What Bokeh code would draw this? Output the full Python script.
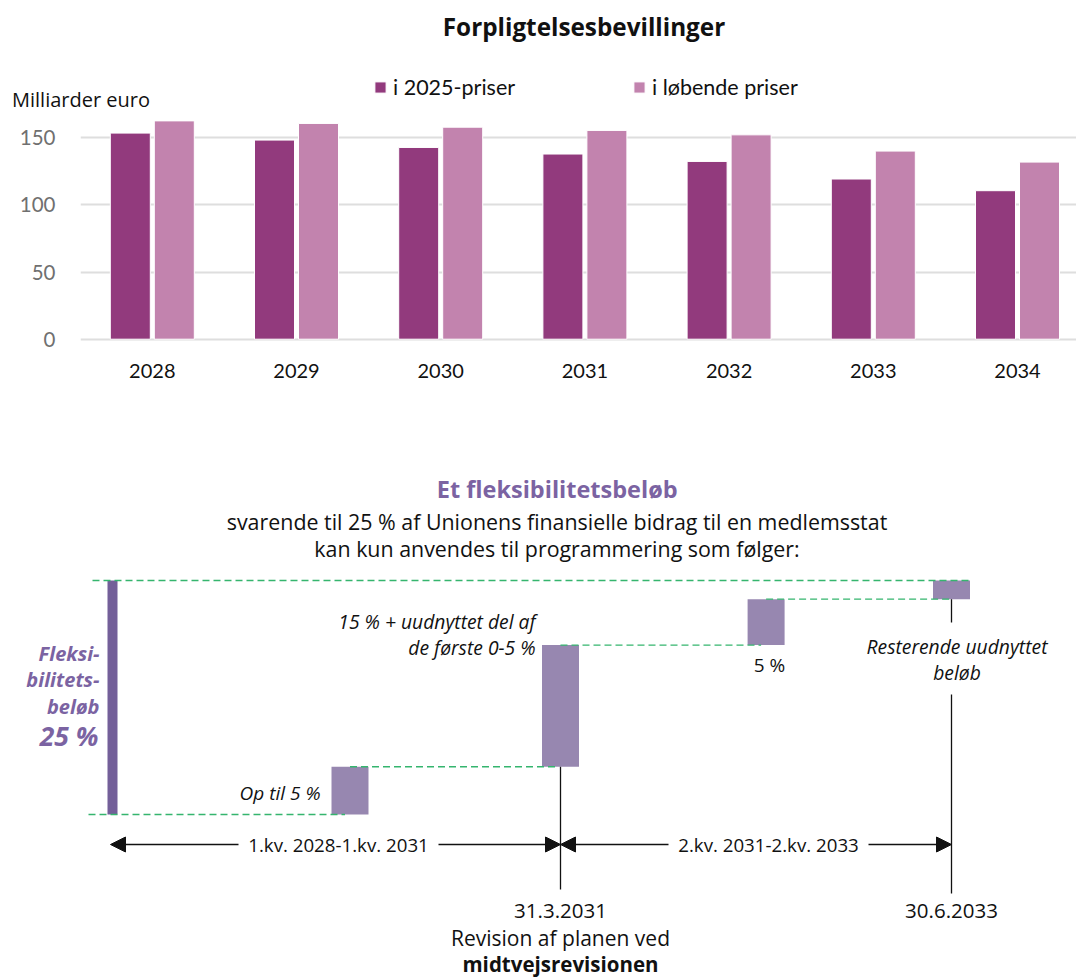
from bokeh.plotting import figure
from bokeh.models import (Range1d, FixedTicker, Label, Legend, LegendItem, Arrow,
                          NormalHead, ColumnDataSource)
from bokeh.embed import file_html
from bokeh.resources import INLINE

# ------------------------------------------------------------------ data
chart_title = "Forpligtelsesbevillinger"
y_unit = "Milliarder euro"
years = ["2028", "2029", "2030", "2031", "2032", "2033", "2034"]
prices_2025 = [153.5, 148.3, 142.8, 137.9, 132.4, 119.3, 110.6]
prices_current = [162.6, 160.7, 157.9, 155.5, 152.2, 140.1, 131.9]
series_names = ["i 2025-priser", "i løbende priser"]
y_ticks = [0, 50, 100, 150]

flex_title = "Et fleksibilitetsbeløb"
flex_sub = ["svarende til 25 % af Unionens finansielle bidrag til en medlemsstat",
            "kan kun anvendes til programmering som følger:"]
flex_share = 25
flex_label = ["Fleksi-", "bilitets-", "beløb"]
flex_pct = "25 %"
step_sizes = [5.1, 13.0, 4.9, 2.0]          # schematic heights, % of contribution
step_labels = [["Op til 5 %"],
               ["15 % + uudnyttet del af", "de første 0-5 %"],
               ["5 %"],
               ["Resterende uudnyttet", "beløb"]]
period_labels = ["1.kv. 2028-1.kv. 2031", "2.kv. 2031-2.kv. 2033"]
milestone_labels = [["31.3.2031", "Revision af planen ved", "midtvejsrevisionen"],
                    ["30.6.2033"]]

# ------------------------------------------------------------------ style
DARK = "#923A7D"
LIGHT = "#C283AE"
GRID = "#DEDEDE"
PURPLE_TXT = "#7B63A2"
FLEX_BAR = "#735F99"
BOX = "#9787B0"
GREEN = "#35B56E"
INK = "#111111"
TOP_FONT = "Lato"
BOT_FONT = "Open Sans"

W = 1076
H0 = 112          # header strip
H1 = 288          # bar chart strip
H2 = 979 - H0 - H1


def bare(fig):
    fig.outline_line_color = None
    fig.xgrid.grid_line_color = None
    fig.ygrid.grid_line_color = None
    return fig


# ------------------------------------------------------------------ header
p0 = bare(figure(width=W, height=H0, title=None,
                 x_range=Range1d(0, W), y_range=Range1d(H0, 0),
                 output_backend="svg", toolbar_location=None,
                 x_axis_location=None, y_axis_location=None,
                 min_border_left=0, min_border_right=0,
                 min_border_top=0, min_border_bottom=0))
p0.add_layout(Label(x=583.5, y=26, text=chart_title, text_align="center",
                    text_baseline="middle", text_font=BOT_FONT, text_font_style="bold",
                    text_font_size="24.3px", text_color=INK))
p0.add_layout(Label(x=11.5, y=99, text=y_unit, text_align="left",
                    text_baseline="middle", text_font=BOT_FONT,
                    text_font_size="20px", text_color=INK))
# legend keys: proxy renderers (kept outside the visible range) carrying the series styles
proxy = ColumnDataSource(dict(x=[-W], top=[0]))
k0 = p0.vbar(x="x", top="top", bottom=0, width=1, source=proxy, fill_color=DARK,
             line_color="white", line_width=1)
k1 = p0.vbar(x="x", top="top", bottom=0, width=1, source=proxy, fill_color=LIGHT,
             line_color="white", line_width=1)
for r, name, lx in ((k0, series_names[0], 373), (k1, series_names[1], 632)):
    p0.add_layout(Legend(items=[LegendItem(label=name, renderers=[r])],
                         location=(lx, H0 - 100), orientation="horizontal",
                         glyph_width=14, glyph_height=14, label_height=14,
                         label_standoff=6, padding=0, margin=0, spacing=0,
                         border_line_color=None, background_fill_alpha=0,
                         label_text_font=TOP_FONT, label_text_font_size="21.5px",
                         label_text_color=INK))

# ------------------------------------------------------------------ bar chart
FR_L, FR_R, FR_T, FR_B = 80, W, H0, 345
C0_PX, CAT_PX = 151.8, 144.2
ZERO_PX, UNIT_PX = 338.7, 201.4 / 150


def tx(px):
    return (px - C0_PX) / CAT_PX


def ty(py):
    return (ZERO_PX - py) / UNIT_PX


p1 = figure(width=W, height=H1, title=None,
            x_range=Range1d(tx(FR_L), tx(FR_R)), y_range=Range1d(ty(FR_B), ty(FR_T)),
            output_backend="svg", toolbar_location=None,
            min_border_left=FR_L, min_border_right=0,
            min_border_top=0, min_border_bottom=H0 + H1 - FR_B)
p1.outline_line_color = None

xs = list(range(len(years)))
dx = 22 / CAT_PX
bw = 40 / CAT_PX
src = ColumnDataSource(dict(xa=[x - dx for x in xs], xb=[x + dx for x in xs],
                            a=prices_2025, b=prices_current))
r1 = p1.vbar(x="xa", top="a", bottom=0, width=bw, source=src,
             fill_color=DARK, line_color="white", line_width=1)
r2 = p1.vbar(x="xb", top="b", bottom=0, width=bw, source=src,
             fill_color=LIGHT, line_color="white", line_width=1)

p1.xaxis.ticker = FixedTicker(ticks=xs)
p1.xaxis.major_label_overrides = {i: y for i, y in enumerate(years)}
p1.yaxis.ticker = FixedTicker(ticks=y_ticks)
for ax in (p1.xaxis[0], p1.yaxis[0]):
    ax.axis_line_color = None
    ax.major_tick_line_color = None
    ax.minor_tick_line_color = None
    ax.major_tick_in = 0
    ax.major_tick_out = 0
    ax.major_label_text_font = TOP_FONT
p1.xaxis.major_label_text_font_size = "20px"
p1.xaxis.major_label_text_color = INK
p1.xaxis.major_label_standoff = 18
p1.yaxis.major_label_text_font_size = "20.5px"
p1.yaxis.major_label_text_color = "#707070"
p1.yaxis.major_label_standoff = 25
p1.xgrid.grid_line_color = None
p1.ygrid.grid_line_color = GRID
p1.ygrid.grid_line_width = 2

# ------------------------------------------------------------------ bottom diagram
TOP2 = H0 + H1            # reference px of canvas top
BASE_PX, PCT_PX = 814.0, 9.36


def by(py):
    return (BASE_PX - py) / PCT_PX


p2 = bare(figure(width=W, height=H2, title=None,
                 x_range=Range1d(0, W), y_range=Range1d(by(TOP2 + H2), by(TOP2)),
                 output_backend="svg", toolbar_location=None,
                 x_axis_location=None, y_axis_location=None,
                 min_border_left=0, min_border_right=0,
                 min_border_top=0, min_border_bottom=0))

COL_X = [349.5, 560.0, 765.6, 951.0]
BOX_W = 37
FLEX_X, FLEX_W = 112, 10
START_X = 110

levels = [0.0]
for s in step_sizes:
    levels.append(levels[-1] + s)

p2.quad(left=[FLEX_X - FLEX_W / 2], right=[FLEX_X + FLEX_W / 2], bottom=[0],
        top=[flex_share], fill_color=FLEX_BAR, line_color=None)
p2.quad(left=[c - BOX_W / 2 for c in COL_X], right=[c + BOX_W / 2 for c in COL_X],
        bottom=levels[:-1], top=levels[1:], fill_color=BOX, line_color=None)

d_x0 = [88] + COL_X[:3] + [92]
d_x1 = [c - 5 for c in COL_X[:3]] + [COL_X[3], COL_X[3] + BOX_W / 2]
d_y = levels[:4] + [flex_share]
p2.segment(x0=d_x0, x1=d_x1, y0=d_y, y1=d_y, line_color=GREEN,
           line_width=1.3, line_dash="7 4")

p2.segment(x0=[COL_X[1], COL_X[3], COL_X[3]], x1=[COL_X[1], COL_X[3], COL_X[3]],
           y0=[levels[1], levels[3], by(694)], y1=[by(889), by(622), by(893)],
           line_color=INK, line_width=1.3)

AY = by(844)
t_pts = [START_X, COL_X[1], COL_X[3]]
centers = [338, 768]
half = 100
for i in range(2):
    a, b = t_pts[i], t_pts[i + 1]
    c = centers[i]
    p2.add_layout(Arrow(x_start=c - half, x_end=a, y_start=AY, y_end=AY,
                        end=NormalHead(size=15, fill_color=INK, line_color=INK),
                        line_color=INK, line_width=1.3))
    p2.add_layout(Arrow(x_start=c + half, x_end=b, y_start=AY, y_end=AY,
                        end=NormalHead(size=15, fill_color=INK, line_color=INK),
                        line_color=INK, line_width=1.3))
    p2.add_layout(Label(x=c, y=AY, text=period_labels[i], text_align="center",
                        text_baseline="middle", text_font=BOT_FONT,
                        text_font_size="18.7px", text_color=INK))


def lab(x, py, text, align="center", size="19px", style="normal", color=INK):
    p2.add_layout(Label(x=x, y=by(py), text=text, text_align=align,
                        text_baseline="middle", text_font=BOT_FONT,
                        text_font_size=size, text_font_style=style, text_color=color))


lab(556.7, 488, flex_title, size="23.5px", style="bold", color=PURPLE_TXT)
lab(556.5, 521, flex_sub[0], size="21.4px")
lab(556.5, 548, flex_sub[1], size="21.4px")

for t, py in zip(flex_label, [653, 679, 705.5]):
    lab(99, py, t, align="right", size="20px", style="bold italic", color=PURPLE_TXT)
lab(98, 735.5, flex_pct, align="right", size="26.5px", style="bold italic", color=PURPLE_TXT)

lab(320, 792.5, step_labels[0][0], align="right", size="19px", style="italic")
lab(535, 620.5, step_labels[1][0], align="right", size="19.3px", style="italic")
lab(535, 647, step_labels[1][1], align="right", size="19.3px", style="italic")
lab(769, 664, step_labels[2][0], size="19px")
lab(956.5, 646, step_labels[3][0], size="19.3px", style="italic")
lab(956.5, 671.5, step_labels[3][1], size="19.3px", style="italic")

lab(COL_X[1], 910, milestone_labels[0][0], size="20.5px")
lab(COL_X[1], 937.5, milestone_labels[0][1], size="21px")
lab(COL_X[1], 963, milestone_labels[0][2], size="20.5px", style="bold")
lab(COL_X[3], 910, milestone_labels[1][0], size="20.5px")

open("out.html", "w").write(file_html([p0, p1, p2], INLINE))
